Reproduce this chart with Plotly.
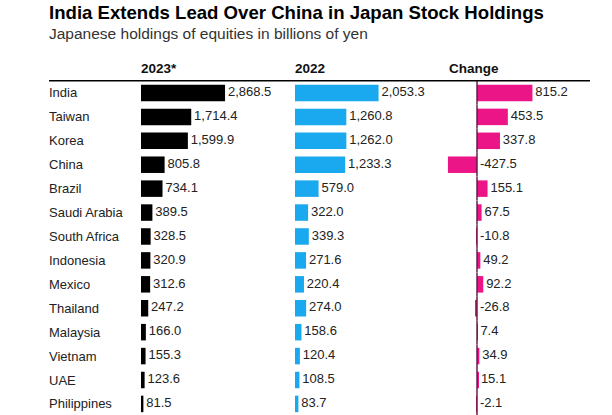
import plotly.graph_objects as go

W, H = 612, 415

countries = ["India", "Taiwan", "Korea", "China", "Brazil", "Saudi Arabia", "South Africa",
             "Indonesia", "Mexico", "Thailand", "Malaysia", "Vietnam", "UAE", "Philippines"]
holdings_2023 = [2868.5, 1714.4, 1599.9, 805.8, 734.1, 389.5, 328.5,
                 320.9, 312.6, 247.2, 166.0, 155.3, 123.6, 81.5]
holdings_2022 = [2053.3, 1260.8, 1262.0, 1233.3, 579.0, 322.0, 339.3,
                 271.6, 220.4, 274.0, 158.6, 120.4, 108.5, 83.7]
change = [815.2, 453.5, 337.8, -427.5, 155.1, 67.5, -10.8,
          49.2, 92.2, -26.8, 7.4, 34.9, 15.1, -2.1]
headers = ["2023*", "2022", "Change"]

FONT = "Liberation Sans, Arial, sans-serif"
BLACK = "#000000"
BLUE = "#1aa8ee"
PINK = "#ec1588"
TEXT = "#222222"

def px_x(p):
    return p / W

def px_y(p):
    return 1 - p / H

fig = go.Figure()

cols = [
    (holdings_2023, BLACK, "x", [141, 290], 0.0293),
    (holdings_2022, BLUE, "x2", [295, 440], 0.0407),
    (change, PINK, "x3", [440, 600], 0.068),
]

for vals, color, xa, dom, scale in cols:
    fig.add_trace(go.Bar(
        x=vals, y=countries, orientation="h", marker=dict(color=color, line=dict(width=0)),
        width=0.69, xaxis=xa, yaxis="y", hoverinfo="skip",
    ))
    fig.add_trace(go.Scatter(
        x=[max(v, 0) for v in vals], y=countries, mode="markers+text",
        marker=dict(size=3, opacity=0),
        text=[f"{v:,.1f}" for v in vals], textposition="middle right",
        textfont=dict(family=FONT, size=13, color=TEXT),
        xaxis=xa, yaxis="y", cliponaxis=False, hoverinfo="skip",
    ))

# zero markers for change column
fig.add_trace(go.Scatter(
    x=[0] * len(countries), y=countries, mode="markers",
    marker=dict(symbol="line-ns", size=17, line=dict(width=1.4, color="#5b1442")),
    xaxis="x3", yaxis="y", hoverinfo="skip", cliponaxis=False,
))

layout_axes = {}
names = ["xaxis", "xaxis2", "xaxis3"]
for (vals, color, xa, dom, scale), name in zip(cols, names):
    zero = dom[0] if name != "xaxis3" else 477
    lo = (dom[0] - zero) / scale
    hi = (dom[1] - zero) / scale
    layout_axes[name] = dict(domain=[px_x(dom[0]), px_x(dom[1])], range=[lo, hi],
                             visible=False, anchor="y", fixedrange=True)

row_px = 23.92
top_px = 81
bottom_val = -0.5 + (H - top_px) / row_px

fig.update_layout(
    width=W, height=H, margin=dict(l=0, r=0, t=0, b=0),
    paper_bgcolor="white", plot_bgcolor="white", showlegend=False,
    yaxis=dict(domain=[0, px_y(top_px)], range=[bottom_val, -0.5], type="category",
               categoryorder="array", categoryarray=countries, visible=False,
               anchor="x", fixedrange=True),
    **layout_axes,
)

annotations = [
    dict(text="<b>India Extends Lead Over China in Japan Stock Holdings</b>",
         x=px_x(48), y=px_y(1), xanchor="left", yanchor="top",
         font=dict(family=FONT, size=18.6, color="#000000")),
    dict(text="Japanese holdings of equities in billions of yen",
         x=px_x(48), y=px_y(24), xanchor="left", yanchor="top",
         font=dict(family=FONT, size=15.5, color="#333333")),
]
for h, xpx in zip(headers, [140, 294, 448]):
    annotations.append(dict(text=f"<b>{h}</b>", x=px_x(xpx), y=px_y(60), xanchor="left",
                            yanchor="top", font=dict(family=FONT, size=13.5, color="#111111")))
for c in countries:
    annotations.append(dict(text=c, x=px_x(48), xref="paper", y=c, yref="y",
                            xanchor="left", yanchor="middle",
                            font=dict(family=FONT, size=13, color=TEXT)))
for a in annotations:
    a.setdefault("xref", "paper")
    a.setdefault("yref", "paper")
    a["showarrow"] = False
    a["borderpad"] = 0
fig.update_layout(annotations=annotations)

fig.add_shape(type="line", xref="paper", yref="paper",
              x0=px_x(49), x1=px_x(590), y0=px_y(80.7), y1=px_y(80.7),
              line=dict(color="#000000", width=1.5))

fig.write_html("out.html", config={"displayModeBar": False},
               post_script="document.body.style.margin='0px';")
